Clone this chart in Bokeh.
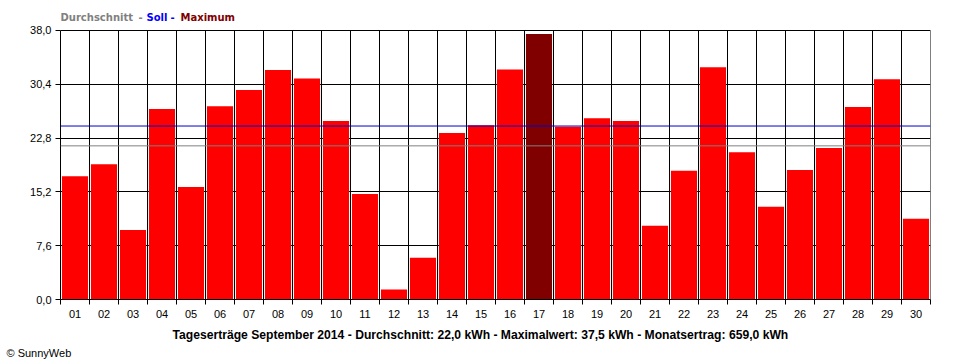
from bokeh.plotting import figure
from bokeh.models import (Range1d, FixedTicker, CustomJSTickFormatter, Label, Span, Title)
from bokeh.embed import file_html
from bokeh.resources import INLINE

# ---- data ----
day_labels = ["01", "02", "03", "04", "05", "06", "07", "08", "09", "10",
              "11", "12", "13", "14", "15", "16", "17", "18", "19", "20",
              "21", "22", "23", "24", "25", "26", "27", "28", "29", "30"]
daily_kwh = [17.4, 19.1, 9.8, 26.9, 15.9, 27.3, 29.6, 32.4, 31.2, 25.2,
             14.9, 1.4, 5.9, 23.5, 24.6, 32.5, 37.5, 24.4, 25.6, 25.2,
             10.4, 18.2, 32.8, 20.8, 13.1, 18.3, 21.4, 27.2, 31.1, 11.4]
y_ticks = [0.0, 7.6, 15.2, 22.8, 30.4, 38.0]
soll_kwh = 24.5
avg_kwh = 21.7
title_text = "Tageserträge September 2014 - Durchschnitt: 22,0 kWh - Maximalwert: 37,5 kWh - Monatsertrag: 659,0 kWh"
header_items = ["Durchschnitt", "-", "Soll", "-", "Maximum"]
copyright_text = "© SunnyWeb"

day_pos = list(range(1, len(day_labels) + 1))
boundaries = [d - 0.5 for d in day_pos] + [day_pos[-1] + 0.5]
max_val = max(daily_kwh)
colors = ["#800000" if v == max_val else "#FF0000" for v in daily_kwh]

FONT = "Liberation Sans"
HFONT = "DejaVu Sans"
PX_PER_UNIT = 270.0 / 38.0          # vertical scale of the reference
X0, X1 = 0.5, 30.5
FW = 870.0
TOP_PAD = 20                          # frame extends 20px above the 38,0 line for the header
Y_TOP = y_ticks[-1] + TOP_PAD / PX_PER_UNIT


def px_x(dx):
    return X0 + dx * (X1 - X0) / FW


def px_y(dy):
    return dy / PX_PER_UNIT


p = figure(width=960, height=360, output_backend="svg", toolbar_location=None,
           x_range=Range1d(X0, X1), y_range=Range1d(0, Y_TOP),
           min_border_left=60, min_border_right=30, min_border_top=10, min_border_bottom=60)
p.background_fill_color = "white"
p.border_fill_color = "white"
p.outline_line_color = None

# grids
p.xgrid.visible = False
p.ygrid.ticker = FixedTicker(ticks=y_ticks)
p.ygrid.grid_line_color = "black"
p.ygrid.grid_line_alpha = 1.0
p.ygrid.grid_line_width = 1
p.segment(x0=boundaries, y0=[0] * len(boundaries), x1=boundaries, y1=[y_ticks[-1]] * len(boundaries),
          line_color="black", line_width=1)

# x axis
xa = p.xaxis[0]
xa.ticker = FixedTicker(ticks=day_pos, minor_ticks=boundaries)
xa.major_label_overrides = {d: lab for d, lab in zip(day_pos, day_labels)}
xa.major_tick_out = 0
xa.major_tick_in = 0
xa.major_tick_line_color = None
xa.minor_tick_out = 5
xa.minor_tick_in = 0
xa.minor_tick_line_color = "black"
xa.major_label_standoff = 5
xa.major_label_text_font = FONT
xa.major_label_text_font_size = "11px"
xa.major_label_text_color = "black"
xa.axis_line_color = "black"

# y axis
ya = p.yaxis[0]
ya.ticker = FixedTicker(ticks=y_ticks)
ya.bounds = (y_ticks[0], y_ticks[-1])
ya.formatter = CustomJSTickFormatter(code="return tick.toFixed(1).replace('.', ',');")
ya.major_tick_out = 5
ya.major_tick_in = 0
ya.minor_tick_line_color = None
ya.major_tick_line_color = "black"
ya.major_label_standoff = 4
ya.major_label_text_font = FONT
ya.major_label_text_font_size = "11px"
ya.major_label_text_color = "black"
ya.axis_line_color = "black"

# bars
p.vbar(x=day_pos, top=daily_kwh, bottom=0, width=0.9, fill_color=colors, line_color=None)

# reference lines
p.add_layout(Span(location=soll_kwh, dimension="width", line_color="#0000CC", line_width=1))
p.add_layout(Span(location=avg_kwh, dimension="width", line_color="#808080", line_width=1))

# legend-like header (inside the extended frame, above the 38,0 line)
for txt, xx, col in zip(header_items, [0, 78, 86, 110, 120],
                        ["#808080", "#808080", "#0000FF", "#0000FF", "#800000"]):
    p.add_layout(Label(x=px_x(xx), y=y_ticks[-1] + px_y(13), text=txt,
                       text_font=HFONT, text_font_size="10px", text_font_style="bold",
                       text_color=col, text_baseline="middle", text_align="left"))

# bottom texts
p.add_layout(Title(text=title_text, align="left", offset=112, standoff=10,
                   text_font=FONT, text_font_size="12.15px", text_font_style="bold",
                   text_color="black"), "below")
p.add_layout(Title(text=copyright_text, align="left", offset=-54, standoff=0, vertical_align="top",
                   text_font=FONT, text_font_size="11px", text_font_style="normal",
                   text_color="black"), "below")

open("out.html", "w").write(file_html(p, INLINE))
